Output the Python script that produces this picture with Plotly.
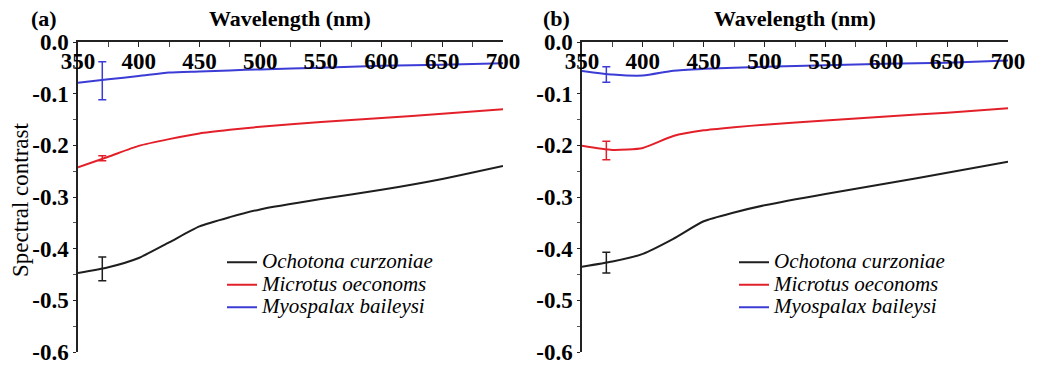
import plotly.graph_objects as go

W, H = 1041, 374

# ---------------- data ----------------
wavelength = [350, 375, 400, 425, 450, 475, 500, 550, 600, 650, 700]

# panel (a)
a_ochotona = [-0.447, -0.436, -0.418, -0.388, -0.357, -0.339, -0.324, -0.304, -0.286, -0.265, -0.240]
a_microtus = [-0.2425, -0.222, -0.201, -0.188, -0.177, -0.170, -0.164, -0.155, -0.147, -0.139, -0.130]
a_myospalax = [-0.079, -0.072, -0.066, -0.059, -0.057, -0.055, -0.053, -0.050, -0.046, -0.044, -0.041]

# panel (b)
b_ochotona = [-0.435, -0.425, -0.410, -0.381, -0.347, -0.330, -0.316, -0.294, -0.274, -0.253, -0.2315]
b_microtus = [-0.201, -0.209, -0.205, -0.182, -0.171, -0.165, -0.160, -0.152, -0.144, -0.137, -0.128]
b_myospalax = [-0.056, -0.063, -0.065, -0.0555, -0.052, -0.050, -0.048, -0.045, -0.042, -0.040, -0.036]

# error bars (at 370 nm)
err_wl = [370]
a_err_mean = {"Ochotona": -0.439, "Microtus": -0.225, "Myospalax": -0.075}
a_err_plus = {"Ochotona": 0.023, "Microtus": 0.005, "Myospalax": 0.037}
b_err_mean = {"Ochotona": -0.427, "Microtus": -0.210, "Myospalax": -0.063}
b_err_plus = {"Ochotona": 0.020, "Microtus": 0.018, "Myospalax": 0.015}

species = ["Ochotona", "Microtus", "Myospalax"]
legend_names = ["Ochotona curzoniae", "Microtus oeconoms", "Myospalax baileysi"]
colors = {"Ochotona": "#1e1e1e", "Microtus": "#e3202a", "Myospalax": "#3b3bd6"}

x_ticks = [350, 400, 450, 500, 550, 600, 650, 700]
y_ticks = [0.0, -0.1, -0.2, -0.3, -0.4, -0.5, -0.6]
y_ticktext = ["0.0", "-0.1", "-0.2", "-0.3", "-0.4", "-0.5", "-0.6"]

SERIF = "Liberation Serif, Times New Roman, Times, serif"

fig = go.Figure()

panels = [
    ("x", "y", "legend", {"Ochotona": a_ochotona, "Microtus": a_microtus, "Myospalax": a_myospalax},
     a_err_mean, a_err_plus),
    ("x2", "y2", "legend2", {"Ochotona": b_ochotona, "Microtus": b_microtus, "Myospalax": b_myospalax},
     b_err_mean, b_err_plus),
]

for xa, ya, leg, series, emean, eplus in panels:
    for sp, name in zip(species, legend_names):
        fig.add_trace(go.Scatter(
            x=wavelength, y=series[sp], mode="lines",
            line=dict(color=colors[sp], width=2, shape="spline", smoothing=0.6),
            name=f"<span style='font-size:21px'><i>{name}</i></span>",
            xaxis=xa, yaxis=ya, legend=leg, showlegend=True,
        ))
    for sp in species:
        fig.add_trace(go.Scatter(
            x=err_wl, y=[emean[sp]], mode="markers",
            marker=dict(size=1, color=colors[sp], opacity=0),
            error_y=dict(type="data", array=[eplus[sp]], color=colors[sp], thickness=1.5, width=4),
            xaxis=xa, yaxis=ya, showlegend=False, hoverinfo="skip",
        ))

xdom_a = [78 / W, 503 / W]
xdom_b = [582 / W, 1008 / W]
ydom = [1 - 352 / H, 1 - 42 / H]

def xaxis_cfg(dom, anchor):
    return dict(
        domain=dom, anchor=anchor, range=[350, 700], side="top", automargin=False,
        tickvals=x_ticks, ticks="inside", ticklen=5, tickwidth=1.2, tickcolor="#222",
        ticklabelposition="inside", ticklabeloverflow="allow", ticklabelstandoff=8,
        minor=dict(dtick=25, tick0=350, ticks="inside", ticklen=5, tickcolor="#444"),
        showline=True, linecolor="#222", linewidth=1.5, showgrid=False, zeroline=False,
        tickfont=dict(family=SERIF, size=23, color="black", weight="bold"),
    )

def yaxis_cfg(anchor):
    return dict(
        domain=ydom, anchor=anchor, range=[-0.6, 0.0], automargin=False,
        tickvals=y_ticks, ticktext=y_ticktext, ticks="outside", ticklen=3, tickwidth=1.2,
        tickcolor="#222",
        minor=dict(dtick=0.05, tick0=0, ticks="outside", ticklen=3, tickcolor="#555"),
        showline=True, linecolor="#222", linewidth=1.5, showgrid=False, zeroline=False,
        tickfont=dict(family=SERIF, size=23, color="black", weight="bold"),
    )

legend_common = dict(
    bgcolor="rgba(0,0,0,0)", borderwidth=0,
    font=dict(family=SERIF, size=15, color="black"),
    xanchor="left", yanchor="top", tracegroupgap=0, itemwidth=30,
)

ann_font_b = dict(family=SERIF, size=22, color="black")
fig.update_layout(
    width=W, height=H,
    margin=dict(l=0, r=0, t=0, b=0, pad=0),
    paper_bgcolor="white", plot_bgcolor="white",
    xaxis=xaxis_cfg(xdom_a, "y"),
    yaxis=yaxis_cfg("x"),
    xaxis2=xaxis_cfg(xdom_b, "y2"),
    yaxis2=yaxis_cfg("x2"),
    legend=dict(x=222 / W, y=1 - 246 / H, **legend_common),
    legend2=dict(x=734 / W, y=1 - 246 / H, **legend_common),
    annotations=[
        dict(text="<b>(a)</b>", x=44 / W, y=1 - 19 / H, xref="paper", yref="paper",
             xanchor="center", yanchor="middle", showarrow=False, font=ann_font_b),
        dict(text="<b>(b)</b>", x=556 / W, y=1 - 19 / H, xref="paper", yref="paper",
             xanchor="center", yanchor="middle", showarrow=False, font=ann_font_b),
        dict(text="<b>Wavelength (nm)</b>", x=290 / W, y=1 - 19 / H, xref="paper", yref="paper",
             xanchor="center", yanchor="middle", showarrow=False, font=ann_font_b),
        dict(text="<b>Wavelength (nm)</b>", x=795 / W, y=1 - 19 / H, xref="paper", yref="paper",
             xanchor="center", yanchor="middle", showarrow=False, font=ann_font_b),
        dict(text="Spectral contrast", x=20 / W, y=1 - 200 / H, xref="paper", yref="paper",
             xanchor="center", yanchor="middle", showarrow=False, textangle=-90,
             font=dict(family=SERIF, size=23, color="black")),
    ],
)

fig.write_html("out.html")
